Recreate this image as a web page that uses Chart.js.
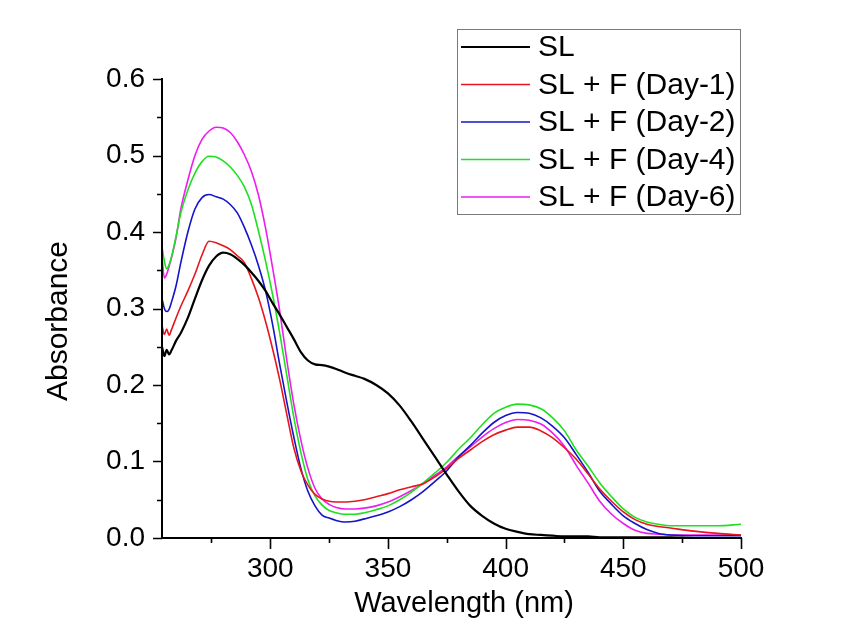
<!DOCTYPE html>
<html>
<head>
<meta charset="utf-8">
<script src="https://cdn.jsdelivr.net/npm/chart.js@4.4.1/dist/chart.umd.min.js"></script>
<style>
  html, body { margin: 0; padding: 0; background: #ffffff; }
  canvas { display: block; }
</style>
</head>
<body>
<canvas id="uv" width="850" height="636"></canvas>
<script>
// UV-Vis absorption spectra of SL and SL + F over several days
const wavelengths = [254,255,256,257,258,260,262,265,268,271,274,277,280,283,286,289,292,295,298,301,304,307,310,313,316,319,322,325,328,332,336,340,345,350,355,360,365,370,375,380,385,390,395,400,405,410,415,420,425,430,435,440,445,450,455,460,465,470,480,490,500];

const absSL = [0.250,0.238,0.246,0.240,0.245,0.258,0.268,0.288,0.313,0.337,0.356,0.368,0.373,0.371,0.365,0.357,0.347,0.336,0.323,0.307,0.292,0.276,0.260,0.243,0.232,0.227,0.226,0.224,0.221,0.216,0.212,0.208,0.200,0.189,0.173,0.152,0.129,0.106,0.083,0.061,0.042,0.029,0.019,0.012,0.008,0.005,0.004,0.003,0.002,0.002,0.002,0.001,0.001,0.001,0.001,0.001,0.001,0.001,0.000,0.000,0.000];

const absDay1 = [0.278,0.266,0.273,0.265,0.272,0.288,0.303,0.323,0.345,0.370,0.388,0.386,0.382,0.377,0.369,0.360,0.339,0.314,0.283,0.247,0.207,0.162,0.118,0.088,0.069,0.057,0.051,0.048,0.047,0.047,0.048,0.050,0.054,0.058,0.063,0.067,0.071,0.080,0.091,0.104,0.115,0.126,0.135,0.141,0.145,0.145,0.140,0.131,0.118,0.103,0.084,0.064,0.048,0.034,0.024,0.018,0.015,0.013,0.009,0.006,0.004];

const absDay2 = [0.313,0.300,0.296,0.299,0.308,0.330,0.360,0.400,0.430,0.445,0.449,0.446,0.443,0.436,0.425,0.406,0.383,0.356,0.323,0.279,0.227,0.178,0.132,0.091,0.061,0.042,0.030,0.026,0.023,0.021,0.022,0.025,0.029,0.034,0.041,0.050,0.061,0.074,0.088,0.106,0.121,0.137,0.151,0.160,0.164,0.163,0.157,0.146,0.131,0.109,0.086,0.061,0.044,0.029,0.019,0.011,0.006,0.004,0.003,0.003,0.003];

const absDay4 = [0.381,0.362,0.352,0.357,0.367,0.395,0.425,0.455,0.477,0.492,0.499,0.498,0.493,0.485,0.474,0.459,0.436,0.401,0.362,0.318,0.268,0.213,0.158,0.112,0.076,0.055,0.043,0.036,0.033,0.031,0.031,0.033,0.037,0.042,0.050,0.060,0.072,0.085,0.099,0.116,0.131,0.148,0.163,0.171,0.175,0.174,0.169,0.157,0.140,0.115,0.094,0.072,0.054,0.038,0.027,0.021,0.018,0.016,0.016,0.016,0.018];

const absDay6 = [0.368,0.340,0.345,0.355,0.366,0.393,0.430,0.468,0.500,0.521,0.532,0.537,0.536,0.530,0.518,0.501,0.479,0.448,0.405,0.353,0.297,0.233,0.175,0.128,0.091,0.065,0.051,0.044,0.040,0.038,0.038,0.039,0.042,0.047,0.054,0.062,0.071,0.082,0.093,0.107,0.119,0.132,0.143,0.151,0.155,0.154,0.149,0.137,0.120,0.095,0.072,0.048,0.031,0.019,0.010,0.006,0.005,0.004,0.004,0.004,0.004];

const seriesLabels = ['SL', 'SL + F (Day-1)', 'SL + F (Day-2)', 'SL + F (Day-4)', 'SL + F (Day-6)'];
const seriesColors = ['#000000', '#e8161c', '#1414c8', '#1fe01f', '#ee1cee'];
const seriesValues = [absSL, absDay1, absDay2, absDay4, absDay6];

const xTickValues = [300, 350, 400, 450, 500];
const xMinorValues = [275, 325, 375, 425, 475];
const yTickValues = [0.0, 0.1, 0.2, 0.3, 0.4, 0.5, 0.6];
const yMinorValues = [0.05, 0.15, 0.25, 0.35, 0.45, 0.55];

const FONT = '"Liberation Sans", Arial, Helvetica, sans-serif';

const datasets = seriesValues.map((vals, i) => ({
  label: seriesLabels[i],
  data: wavelengths.map((w, j) => ({ x: w, y: vals[j] })),
  borderColor: seriesColors[i],
  borderWidth: i === 0 ? 2.2 : 1.6,
  pointRadius: 0,
  fill: false,
  cubicInterpolationMode: 'monotone',
  borderJoinStyle: 'round'
}));

// white page background
const background = {
  id: 'background',
  beforeDraw(chart) {
    const ctx = chart.ctx;
    ctx.save();
    ctx.fillStyle = '#ffffff';
    ctx.fillRect(0, 0, chart.width, chart.height);
    ctx.restore();
  }
};

// axis lines with major and minor tick marks, plus axis titles
const axisFrame = {
  id: 'axisFrame',
  afterDraw(chart) {
    const ctx = chart.ctx;
    const xs = chart.scales.x, ys = chart.scales.y;
    const area = chart.chartArea;
    ctx.save();
    ctx.strokeStyle = '#000000';
    ctx.lineWidth = 2;
    ctx.lineCap = 'square';
    ctx.beginPath();
    ctx.moveTo(area.left, area.top);
    ctx.lineTo(area.left, area.bottom);
    ctx.lineTo(area.right, area.bottom);
    ctx.stroke();
    ctx.lineCap = 'butt';
    ctx.lineWidth = 1.6;
    ctx.beginPath();
    yTickValues.forEach(v => {
      const py = Math.round(ys.getPixelForValue(v)) + 0.5;
      ctx.moveTo(area.left - 9, py); ctx.lineTo(area.left, py);
    });
    yMinorValues.forEach(v => {
      const py = Math.round(ys.getPixelForValue(v)) + 0.5;
      ctx.moveTo(area.left - 5, py); ctx.lineTo(area.left, py);
    });
    xTickValues.forEach(v => {
      const px = Math.round(xs.getPixelForValue(v)) + 0.5;
      ctx.moveTo(px, area.bottom); ctx.lineTo(px, area.bottom + 11);
    });
    xMinorValues.forEach(v => {
      const px = Math.round(xs.getPixelForValue(v)) + 0.5;
      ctx.moveTo(px, area.bottom); ctx.lineTo(px, area.bottom + 5);
    });
    ctx.stroke();

    ctx.fillStyle = '#000000';
    ctx.textAlign = 'center';
    ctx.textBaseline = 'middle';
    ctx.font = '29px ' + FONT;
    ctx.fillText('Wavelength (nm)', 464, 604);
    ctx.font = '30px ' + FONT;
    ctx.translate(59, 321);
    ctx.rotate(-Math.PI / 2);
    ctx.fillText('Absorbance', 0, 0);
    ctx.restore();
  }
};

// boxed legend in the upper right
const boxLegend = {
  id: 'boxLegend',
  afterDraw(chart) {
    const ctx = chart.ctx;
    ctx.save();
    ctx.strokeStyle = '#7a7a7a';
    ctx.lineWidth = 1;
    ctx.strokeRect(457.5, 29.5, 283, 185);
    ctx.font = '30px ' + FONT;
    ctx.textAlign = 'left';
    ctx.textBaseline = 'middle';
    chart.data.datasets.forEach((ds, i) => {
      const y = 47 + i * 37.5;
      ctx.strokeStyle = ds.borderColor;
      ctx.lineWidth = ds.borderWidth;
      ctx.beginPath();
      ctx.moveTo(461, y);
      ctx.lineTo(530, y);
      ctx.stroke();
      ctx.fillStyle = '#000000';
      ctx.fillText(ds.label, 538, y + 1);
    });
    ctx.restore();
  }
};

new Chart(document.getElementById('uv'), {
  type: 'line',
  data: { datasets },
  options: {
    responsive: false,
    devicePixelRatio: 1,
    animation: false,
    layout: { padding: { top: 79, right: 109, bottom: 0, left: 0 } },
    plugins: { legend: { display: false }, tooltip: { enabled: false } },
    scales: {
      x: {
        type: 'linear',
        min: 254,
        max: 500,
        grid: { display: false, drawTicks: false },
        border: { display: false },
        afterBuildTicks(scale) { scale.ticks = xTickValues.map(v => ({ value: v })); },
        afterFit(scale) { scale.height = 98; },
        ticks: {
          color: '#000000',
          font: { family: FONT, size: 28 },
          padding: 14,
          maxRotation: 0,
          autoSkip: false
        }
      },
      y: {
        type: 'linear',
        min: 0,
        max: 0.6,
        grid: { display: false, drawTicks: false },
        border: { display: false },
        afterBuildTicks(scale) { scale.ticks = yTickValues.map(v => ({ value: v })); },
        afterFit(scale) { scale.width = 162; },
        ticks: {
          color: '#000000',
          font: { family: FONT, size: 28 },
          padding: 17,
          callback: v => Number(v).toFixed(1)
        }
      }
    }
  },
  plugins: [background, axisFrame, boxLegend]
});
</script>
</body>
</html>
